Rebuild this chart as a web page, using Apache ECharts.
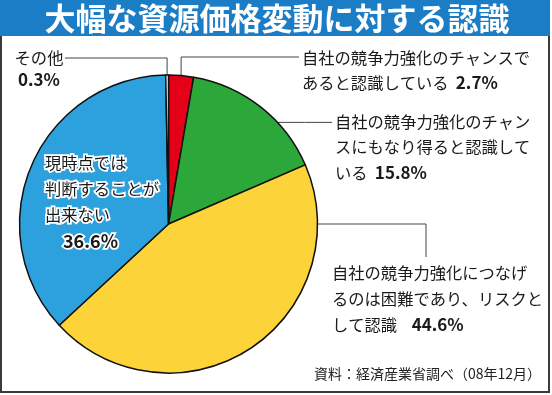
<!DOCTYPE html>
<html><head><meta charset="utf-8">
<script src="https://cdn.jsdelivr.net/npm/echarts@6/dist/echarts.min.js"></script>
<style>html,body{margin:0;padding:0;background:#fff}#c{width:552px;height:395px}</style>
</head><body><div id="c"></div>
<script>
// ---- data ----
const titleText = '大幅な資源価格変動に対する認識';
const sourceText = '資料：経済産業省調べ（08年12月）';
const categories = [
  '自社の競争力強化のチャンスであると認識している',
  '自社の競争力強化のチャンスにもなり得ると認識している',
  '自社の競争力強化につなげるのは困難であり、リスクとして認識',
  '現時点では判断することが出来ない',
  'その他'
];
const values = [2.7, 15.8, 44.6, 36.6, 0.3];
// category text split into label lines (last line gets the percentage)
const labelLines = [
  ['自社の競争力強化のチャンスで', 'あると認識している'],
  ['自社の競争力強化のチャン', 'スにもなり得ると認識して', 'いる'],
  ['自社の競争力強化につなげ', 'るのは困難であり、リスクと', 'して認識'],
  ['現時点では', '判断することが', '出来ない', ''],
  ['その他', '']
];
const colors = ['#e50019', '#2ca83b', '#fdd33a', '#2da0de', '#ffffff'];

// ---- layout ----
const CX = 168.5, CY = 224, R = 149;
const FONT = '"Noto Sans CJK JP", "Noto Sans", sans-serif';
const labelPos = [
  {x: 302, y: 45, align: 'left', lh: 25, anchorDeg: null, route: (a) => [a, [a[0], 57], [299, 57]]},
  {x: 335, y: 109, align: 'left', lh: 25.5, anchorDeg: 47, route: (a) => [a, [a[0] + 27, a[1]], [332, a[1]]]},
  {x: 332, y: 260, align: 'left', lh: 26, anchorDeg: 90, route: (a) => [a, [426, a[1]], [426, 257]]},
  {x: 45, y: 150, align: 'left', lh: 26, anchorDeg: null, route: null},
  {x: 39, y: 47, align: 'center', lh: 22, anchorDeg: null, route: (a) => [a, [a[0], 58], [65, 58]]}
];
const sep = ['  ', '  ', '    ', '', ''];

const total = values.reduce((s, v) => s + v, 0);
function midDeg(i) {
  let before = 0;
  for (let k = 0; k < i; k++) before += values[k];
  return (before + values[i] / 2) / total * 360;
}
function anchor(i) {
  const d = labelPos[i].anchorDeg != null ? labelPos[i].anchorDeg : midDeg(i);
  const rad = d * Math.PI / 180;
  return [CX + R * Math.sin(rad), CY - R * Math.cos(rad)];
}

const data = categories.map((name, i) => {
  const lines = labelLines[i].slice();
  const last = lines.length - 1;
  const pct = values[i].toFixed(1) + '%';
  const txt = lines.map((l, k) => {
    if (k === last) {
      if (i === 3) return '{t|' + l + '}{pi|' + pct + '}';
      return (l ? '{t|' + l + sep[i] + '}' : '') + '{p|' + pct + '}';
    }
    return '{t|' + l + '}';
  }).filter(s => s !== '{t|}').join('\n');
  const lh = labelPos[i].lh;
  const inside = i === 3;
  const border = inside ? {textBorderColor: '#fff', textBorderWidth: 3.5} : {};
  return {
    name, value: values[i],
    itemStyle: {color: colors[i]},
    labelLine: {show: !!labelPos[i].route},
    label: {
      formatter: txt,
      align: labelPos[i].align,
      rich: {
        t: Object.assign({fontSize: 16.3, lineHeight: lh, color: '#1a1a1a', fontFamily: FONT}, border),
        p: Object.assign({fontSize: 17, fontWeight: 'bold', lineHeight: lh, color: '#1a1a1a', fontFamily: FONT}, border),
        pi: Object.assign({fontSize: 18, fontWeight: 'bold', lineHeight: lh, color: '#1a1a1a', fontFamily: FONT, padding: [0, 0, 0, 18]}, border)
      }
    }
  };
});

const chart = echarts.init(document.getElementById('c'), null, {renderer: 'canvas'});
chart.setOption({
  animation: false,
  backgroundColor: '#fff',
  graphic: [
    {type: 'rect', shape: {x: 1, y: 1, width: 548, height: 391}, style: {fill: 'none', stroke: '#3a3a3a', lineWidth: 2}, z: 10},
    {type: 'rect', shape: {x: 0, y: 0, width: 550, height: 36}, style: {fill: '#1b7dc5'}, z: 11},
    {type: 'text', x: 277, y: 18, style: {text: titleText, fill: '#fff', font: 'bold 31px ' + FONT, textAlign: 'center', textVerticalAlign: 'middle'}, z: 12},
    {type: 'text', x: 541, y: 374, style: {text: sourceText, fill: '#222', font: '14px ' + FONT, textAlign: 'right', textVerticalAlign: 'middle'}, z: 12}
  ],
  series: [{
    type: 'pie',
    center: [CX, CY],
    radius: R,
    startAngle: 90,
    clockwise: true,
    avoidLabelOverlap: false,
    itemStyle: {borderColor: '#111', borderWidth: 1.5},
    label: {show: true, position: 'outside'},
    labelLine: {show: true, lineStyle: {color: '#444', width: 1}},
    labelLayout: function (p) {
      const i = p.dataIndex;
      const lp = labelPos[i];
      const res = {x: lp.x, y: lp.y, align: lp.align, verticalAlign: 'top'};
      if (lp.route) res.labelLinePoints = lp.route(anchor(i));
      return res;
    },
    data
  }]
});
</script></body></html>
